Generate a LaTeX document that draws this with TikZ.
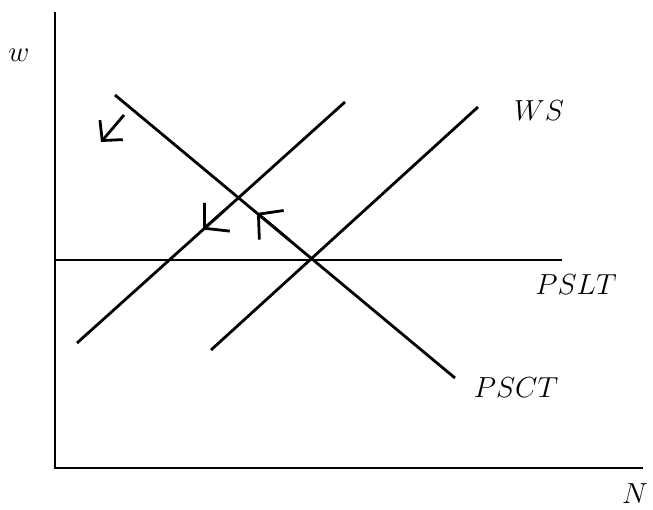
\documentclass[tikz,border=0pt]{standalone}
\usepackage{fix-cm}
\usetikzlibrary{arrows.meta,calc}
\begin{document}
\begin{tikzpicture}[x=1pt,y=-1pt,
  curve/.style={line width=2.8pt},
  lbl/.style={inner sep=0pt, font=\fontsize{29}{34}\selectfont},
  barb/.style={line width=2.8pt, -{Straight Barb[length=17pt,width=38pt,line width=2.8pt]}},
  smallbarb/.style={line width=2.8pt, -{Straight Barb[length=14pt,width=30pt,line width=2.8pt]}}]
\useasboundingbox (0,0) rectangle (653,510);
% axes
\coordinate (top) at (55,12);
\coordinate (origin) at (55,468);
\coordinate (right) at (643,468);
\draw[curve] (top) -- (origin) -- (right);
% curves
\coordinate (pslt1) at (55,260);
\coordinate (pslt2) at (562,260);
\draw[curve] (pslt1) -- (pslt2);
\coordinate (psct1) at (115,95);
\coordinate (psct2) at (455,378);
\draw[curve] (psct1) -- (psct2);
\coordinate (wsa1) at (77,343);
\coordinate (wsa2) at (345,102);
\draw[curve] (wsa1) -- (wsa2);
\coordinate (wsb1) at (211,350);
\coordinate (wsb2) at (478,107);
\draw[curve] (wsb1) -- (wsb2);
% arrows
\coordinate (a1s) at (124,115);
\coordinate (a1e) at (101,142);
\draw[smallbarb] (a1s) -- (a1e);
\coordinate (a2s) at ($(wsa2)!0.45!(wsa1)$);
\coordinate (a2e) at (203,229.5);
\draw[barb] (a2s) -- (a2e);
\coordinate (a3s) at (290,240.5);
\coordinate (a3e) at (257,213);
\draw[barb] (a3s) -- (a3e);
% labels
\node[lbl] (w) at (19,55) {$w$};
\node[lbl] (ws) at (539,111) {$WS$};
\node[lbl] (pslt) at (576,285) {$PSLT$};
\node[lbl] (psct) at (516,388) {$PSCT$};
\node[lbl] (n) at (635,494) {$N$};
\end{tikzpicture}
\end{document}
